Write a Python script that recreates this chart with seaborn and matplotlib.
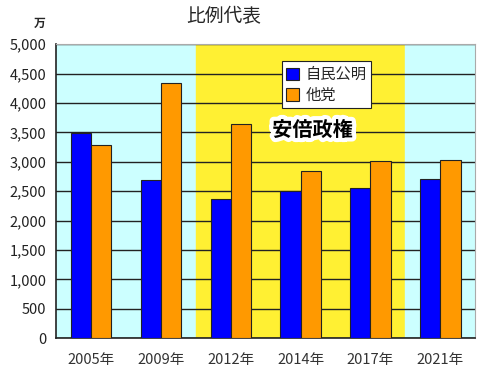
import pandas as pd
import matplotlib
matplotlib.use("Agg")
import matplotlib.pyplot as plt
import matplotlib.patheffects as pe
from matplotlib.ticker import FuncFormatter, MultipleLocator
import seaborn as sns

# data (万票)
years = ['2005年', '2009年', '2012年', '2014年', '2017年', '2021年']
jimin_komei = [3490, 2690, 2370, 2495, 2560, 2705]
others = [3290, 4345, 3640, 2835, 3020, 3030]
series = ['自民公明', '他党']
colors = ['#0000FF', '#FF9900']

df = pd.DataFrame({'year': years * 2,
                   'votes': jimin_komei + others,
                   'party': [series[0]] * len(years) + [series[1]] * len(years)})

sns.set_style("white")
plt.rcParams['font.family'] = ['Noto Sans CJK JP', 'DejaVu Sans']

fig = plt.figure(figsize=(4.8, 3.77), dpi=100)
ax = fig.add_axes([0.117, 0.103, 0.873, 0.78])

# background bands
ax.axvspan(-0.5, 1.5, color='#CCFFFF', zorder=0)
ax.axvspan(1.5, 4.5, color='#FFF033', zorder=0)
ax.axvspan(4.5, 5.5, color='#CCFFFF', zorder=0)

ax.yaxis.set_major_locator(MultipleLocator(500))
ax.grid(axis='y', color='#222222', linewidth=1.0, zorder=1)
ax.set_axisbelow(True)

sns.barplot(data=df, x='year', y='votes', hue='party', palette=colors,
            width=0.58, gap=0, edgecolor='#222222', linewidth=0.8,
            saturation=1, ax=ax, zorder=3)

ax.set_xlim(-0.5, 5.5)
ax.set_ylim(0, 5000)
ax.yaxis.set_major_formatter(FuncFormatter(lambda v, p: f'{int(v):,}'))
ax.set_xlabel('')
ax.set_ylabel('')
ax.set_xticks([i + 0.5 for i in range(-1, 6)], minor=True)
ax.tick_params(axis='x', which='major', length=0, pad=11, labelsize=10.5, colors='#333333')
ax.tick_params(axis='x', which='minor', length=4, direction='in', color='#333333')
ax.tick_params(axis='y', length=0, labelsize=10.5, colors='#222222', pad=7)

for s in ['left', 'bottom']:
    ax.spines[s].set_color('#222222')
    ax.spines[s].set_linewidth(1.2)
for s in ['top', 'right']:
    ax.spines[s].set_color('#AAAAAA')

leg = ax.legend(loc='upper left', bbox_to_anchor=(0.52, 0.967), frameon=True,
                fancybox=False, edgecolor='#222222', framealpha=1,
                fontsize=11, handlelength=0.85, handleheight=0.85,
                handletextpad=0.4, borderpad=0.3, labelspacing=0.25)
leg.get_frame().set_linewidth(0.8)
for h in leg.legend_handles:
    h.set_edgecolor('#222222')

ax.text(3.17, 3545, '安倍政権', ha='center', va='center', fontsize=14.5,
        fontweight='bold', color='black', zorder=5,
        path_effects=[pe.withStroke(linewidth=6, foreground='white')])

fig.text(224 / 480, 1 - 17 / 377, '比例代表', ha='center', va='center', fontsize=13.5)
fig.text(40 / 480, 1 - 23 / 377, '万', ha='center', va='center', fontsize=8.5, fontweight='bold')

plt.savefig('out.png', dpi=100)
